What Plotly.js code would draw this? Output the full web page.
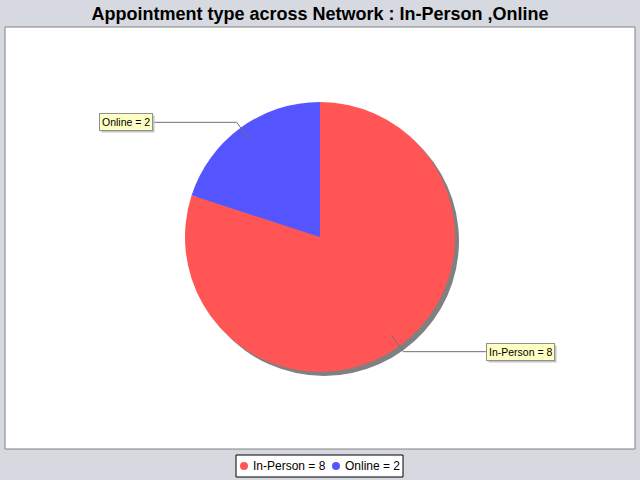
<!DOCTYPE html>
<html>
<head>
<meta charset="utf-8">
<script src="https://cdn.plot.ly/plotly-3.0.1.min.js"></script>
<style>html,body{margin:0;padding:0;background:#d6d9df;}#chart{width:640px;height:480px;}</style>
</head>
<body>
<div id="chart"></div>
<script>
// Data
const categories = ["In-Person", "Online"];
const values = [8, 2];
const colors = ["#ff5555", "#5555ff"];
const chartTitle = "Appointment type across Network : In-Person ,Online";

// Layout geometry (pixels)
const W = 640, H = 480;
const cx = 320, cy = 237, R = 135, shadowOff = 4;
const px = x => x / W;
const py = y => 1 - y / H;

const labels = categories.map((c, i) => c + " = " + values[i]);

const pieTrace = {
  type: "pie",
  labels: categories,
  values: values,
  sort: false,
  direction: "clockwise",
  rotation: 0,
  textinfo: "none",
  hoverinfo: "label+value",
  marker: {colors: colors, line: {width: 0}},
  showlegend: false,
  domain: {x: [px(cx - R), px(cx + R)], y: [py(cy + R), py(cy - R)]}
};
const shadowTrace = {
  type: "pie",
  labels: categories,
  values: values,
  sort: false,
  direction: "clockwise",
  textinfo: "none",
  hoverinfo: "skip",
  marker: {colors: categories.map(() => "#808080"), line: {width: 0}},
  showlegend: false,
  domain: {x: [px(cx - R + shadowOff), px(cx + R + shadowOff)], y: [py(cy + R + shadowOff), py(cy - R + shadowOff)]}
};

const shapes = [
  {type: "rect", xref: "paper", yref: "paper", x0: px(5), x1: px(635), y0: py(449), y1: py(27),
   fillcolor: "#ffffff", line: {color: "#808080", width: 1}, layer: "below"}
];
const annotations = [];

// leader lines and labels
const total = values.reduce((a, b) => a + b, 0);
let cum = 0;
const leftX = 153, rightX = 486;
values.forEach((v, i) => {
  const th = (cum + v / 2) / total * 2 * Math.PI;
  cum += v;
  const s = Math.sin(th), c = Math.cos(th);
  const ix = cx + 0.9 * R * s, iy = cy - 0.9 * R * c;
  const ox = cx + 1.05 * R * s, oy = cy - 1.05 * R * c;
  const left = s < 0;
  const ex = left ? leftX : rightX;
  shapes.push({type: "path", xref: "paper", yref: "paper", layer: "above",
    path: `M${px(ix)},${py(iy)} L${px(ox)},${py(oy)} L${px(ex)},${py(oy)}`,
    line: {color: "#707070", width: 1}});
  annotations.push({xref: "paper", yref: "paper", showarrow: false, xanchor: left ? "right" : "left",
    yanchor: "middle", borderwidth: 1, borderpad: 2, x: px(ex), y: py(oy), text: labels[i],
    bgcolor: "#ffffc4", bordercolor: "#909090",
    font: {family: "Liberation Sans, Arial, sans-serif", size: 10.5, color: "#000000"}});
});

// manual legend
shapes.push({type: "rect", xref: "paper", yref: "paper", x0: px(236), x1: px(403), y0: py(477), y1: py(455),
  fillcolor: "#ffffff", line: {color: "#000000", width: 1}});
const legX = [244, 336];
categories.forEach((c, i) => {
  shapes.push({type: "circle", xref: "paper", yref: "paper",
    x0: px(legX[i] - 4), x1: px(legX[i] + 4), y0: py(470), y1: py(462),
    fillcolor: colors[i], line: {width: 0}});
  annotations.push({xref: "paper", yref: "paper", x: px(legX[i] + 7), y: py(466), xanchor: "left", yanchor: "middle",
    showarrow: false, text: labels[i], font: {family: "Liberation Sans, Arial, sans-serif", size: 12, color: "#000"}});
});

const layout = {
  width: W, height: H,
  margin: {l: 0, r: 0, t: 0, b: 0},
  paper_bgcolor: "#d6d9df",
  plot_bgcolor: "#d6d9df",
  title: {text: "<b>" + chartTitle + "</b>", x: 0.5, xref: "paper", y: py(14), yref: "paper", yanchor: "middle",
    font: {family: "Liberation Sans, Arial, sans-serif", size: 18, color: "#000"}},
  showlegend: false,
  shapes: shapes,
  annotations: annotations
};

const gd = document.getElementById("chart");
Plotly.newPlot(gd, [shadowTrace, pieTrace], layout, {displayModeBar: false, staticPlot: true}).then(() => {
  // add drop shadows behind the label boxes, sized from the drawn boxes
  const extra = [];
  const nLabels = values.length;
  const bgs = gd.querySelectorAll("g.annotation rect.bg");
  for (let k = 0; k < nLabels && k < bgs.length; k++) {
    const b = bgs[k].getBoundingClientRect();
    extra.push({type: "rect", xref: "paper", yref: "paper", layer: "above",
      x0: px(b.left + 2), x1: px(b.right + 2), y0: py(b.bottom + 2), y1: py(b.top + 2),
      fillcolor: "#c4c4c4", line: {width: 0}});
  }
  return Plotly.relayout(gd, {shapes: shapes.concat(extra)});
});
</script>
</body>
</html>
